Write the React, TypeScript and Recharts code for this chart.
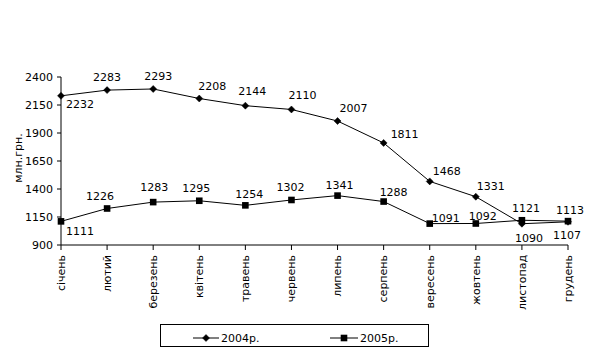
import React from "react";
import { LineChart, Line, XAxis, YAxis, Legend, LabelList } from "recharts";

if (typeof document !== "undefined") {
  document.body.style.margin = "0";
}

const months = [
  "січень", "лютий", "березень", "квітень", "травень", "червень",
  "липень", "серпень", "вересень", "жовтень", "листопад", "грудень",
];
const values2004 = [2232, 2283, 2293, 2208, 2144, 2110, 2007, 1811, 1468, 1331, 1090, 1107];
const values2005 = [1111, 1226, 1283, 1295, 1254, 1302, 1341, 1288, 1091, 1092, 1121, 1113];
const yTicks = [900, 1150, 1400, 1650, 1900, 2150, 2400];
const seriesNames = ["2004р.", "2005р."];
const yAxisTitle = "млн.грн.";

// label placement offsets (style only)
const labelOffsets2004: [number, number][] = [
  [19, 8.5], [0, -13], [5, -12.5], [13, -12.5], [7, -15], [11, -14.5],
  [16, -13.5], [21, -9], [17, -10.5], [15, -10.5], [7, 14], [-1, 13],
];
const labelOffsets2005: [number, number][] = [
  [19, 10], [-7, -12.7], [1, -15.5], [-3, -13], [4, -11], [-1, -12.5],
  [2, -11], [10, -10], [16, -6], [7, -7], [4, -12], [2, -11],
];

const data = months.map((m, i) => ({ month: m, s2004: values2004[i], s2005: values2005[i] }));

const FONT = "'DejaVu Sans', Verdana, sans-serif";

const Diamond = (props: any) => {
  const { cx, cy } = props;
  if (cx == null || cy == null) return null;
  const r = 3.5;
  return <path d={`M${cx},${cy - r}L${cx + r},${cy}L${cx},${cy + r}L${cx - r},${cy}Z`} fill="#000" stroke="#000" strokeWidth={0.5} />;
};

const Square = (props: any) => {
  const { cx, cy } = props;
  if (cx == null || cy == null) return null;
  const r = 3.3;
  return <rect x={cx - r} y={cy - r} width={2 * r} height={2 * r} fill="#000" />;
};

const makeLabel = (offsets: [number, number][]) => (props: any) => {
  const { x, y, value, index } = props;
  const [dx, dy] = offsets[index] || [0, -12];
  return (
    <text x={x + dx} y={y + dy + 4} textAnchor="middle" fontFamily={FONT} fontSize={11} fill="#000">
      {value}
    </text>
  );
};

const XTick = (props: any) => {
  const { x, y, payload } = props;
  return (
    <g transform={`translate(${x},${y})`}>
      <text transform="rotate(-90)" textAnchor="end" dy="0.35em" fontFamily={FONT} fontSize={11} fill="#000">
        {payload.value}
      </text>
    </g>
  );
};

const LegendContent = () => (
  <div style={{ width: 269, height: 23, border: "1px solid #000", boxSizing: "border-box", background: "#fff" }}>
    <svg width={267} height={21} style={{ display: "block" }}>
      <line x1={32} x2={58} y1={13} y2={13} stroke="#000" strokeWidth={1} />
      <Diamond cx={45} cy={13} />
      <text x={60} y={17} fontFamily={FONT} fontSize={11} fill="#000">{seriesNames[0]}</text>
      <line x1={169} x2={197} y1={13} y2={13} stroke="#000" strokeWidth={1} />
      <Square cx={183} cy={13} />
      <text x={199} y={17} fontFamily={FONT} fontSize={11} fill="#000">{seriesNames[1]}</text>
    </svg>
  </div>
);

export default function App() {
  return (
    <div style={{ width: 600, height: 353, background: "#fff", position: "relative" }}>
      <LineChart width={600} height={353} data={data} margin={{ top: 77, right: 32, left: 0, bottom: 20 }}>
        <XAxis
          dataKey="month"
          interval={0}
          height={65}
          tick={<XTick />}
          tickSize={5}
          tickMargin={5}
          axisLine={{ stroke: "#000" }}
          tickLine={{ stroke: "#000" }}
          padding={{ left: 0, right: 0 }}
        />
        <YAxis
          domain={[900, 2400]}
          ticks={yTicks}
          interval={0}
          width={61}
          tickSize={4}
          tickMargin={4}
          axisLine={{ stroke: "#000" }}
          tickLine={{ stroke: "#000" }}
          tick={{ fontFamily: FONT, fontSize: 11, fill: "#000" }}
        />
        <Legend
          verticalAlign="bottom"
          content={<LegendContent />}
          wrapperStyle={{ left: 160, top: 324, width: 269, height: 23 }}
        />
        <Line
          type="linear"
          dataKey="s2004"
          name={seriesNames[0]}
          stroke="#000"
          strokeWidth={1}
          dot={<Diamond />}
          activeDot={false}
          isAnimationActive={false}
        >
          <LabelList dataKey="s2004" content={makeLabel(labelOffsets2004)} />
        </Line>
        <Line
          type="linear"
          dataKey="s2005"
          name={seriesNames[1]}
          stroke="#000"
          strokeWidth={1}
          dot={<Square />}
          activeDot={false}
          isAnimationActive={false}
        >
          <LabelList dataKey="s2005" content={makeLabel(labelOffsets2005)} />
        </Line>
      </LineChart>
      <div
        style={{
          position: "absolute",
          left: 18,
          top: 158,
          transform: "translate(-50%, -50%) rotate(-90deg)",
          fontFamily: FONT,
          fontSize: 11,
          lineHeight: "13px",
          whiteSpace: "nowrap",
          color: "#000",
        }}
      >
        {yAxisTitle}
      </div>
    </div>
  );
}
